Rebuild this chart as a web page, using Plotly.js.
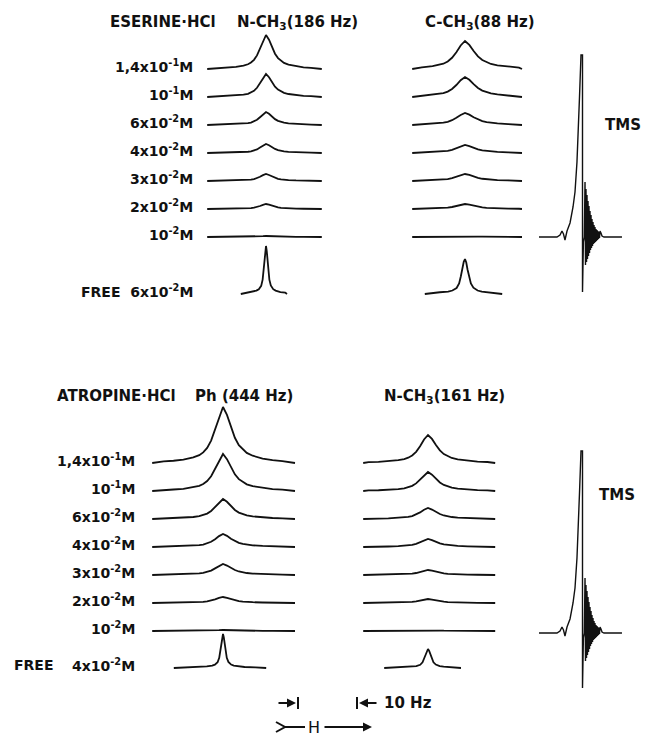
<!DOCTYPE html>
<html><head><meta charset="utf-8">
<script src="https://cdn.plot.ly/plotly-3.0.1.min.js"></script>
<style>html,body{margin:0;padding:0;background:#fff}</style>
</head><body>
<div id="chart" style="width:647px;height:736px"></div>
<script>
// ---------------- DATA ----------------
const concLabels = ["1,4x10<sup>-1</sup>M", "10<sup>-1</sup>M", "6x10<sup>-2</sup>M", "4x10<sup>-2</sup>M",
                    "3x10<sup>-2</sup>M", "2x10<sup>-2</sup>M", "10<sup>-2</sup>M"];
const freeConcEserine = "6x10<sup>-2</sup>M";
const freeConcAtropine = "4x10<sup>-2</sup>M";

// peak heights (arbitrary intensity units) for each concentration row
const eserineNCH3Heights = [34, 23, 13, 9, 7, 5, 1];
const eserineNCH3Free = 48;
const eserineCCH3Heights = [28, 20, 12, 8, 7, 5, 1];
const eserineCCH3Free = 35;
const atropinePhHeights = [56, 37, 20, 13, 11, 6, 1];
const atropinePhFree = 34;
const atropineNCH3Heights = [28, 19, 11, 8, 5, 4, 1];
const atropineNCH3Free = 19;

// line widths (Hz, full width at half height)
const boundWidthHz = {eserineNCH3: 2.5, eserineCCH3: 3.6, atropinePh: 3.3, atropineNCH3: 3.3};
const freeWidthHz  = {eserineNCH3: 0.8, eserineCCH3: 1.4, atropinePh: 0.9, atropineNCH3: 1.3};

// line shapes (offset in widths, relative intensity)
const boundShapeU = [-5, -4, -3, -2.5, -2, -1.5, -1.2, -1, -0.8, -0.6, -0.4, -0.2, 0, 0.2, 0.4, 0.6, 0.8, 1, 1.2, 1.5, 2, 2.5, 3, 4, 5];
const boundShapeV = [0.01, 0.015, 0.03, 0.04, 0.06, 0.1, 0.14, 0.19, 0.27, 0.4, 0.6, 0.84, 1, 0.86, 0.64, 0.45, 0.32, 0.24, 0.18, 0.13, 0.08, 0.05, 0.035, 0.02, 0.01];
const freeShapeU = [-10, -6, -4, -3, -2, -1.5, -1, -0.7, -0.5, -0.3, -0.15, 0, 0.15, 0.3, 0.5, 0.7, 1, 1.5, 2, 3, 4, 6, 10];
const freeShapeV = [0.01, 0.02, 0.03, 0.05, 0.07, 0.1, 0.17, 0.3, 0.5, 0.75, 0.92, 1, 0.9, 0.7, 0.48, 0.3, 0.18, 0.1, 0.07, 0.04, 0.03, 0.02, 0.01];

// TMS reference signal with ringing (offset in Hz from the peak, intensity)
const tmsHz = [-7.0, -4.0, -3.5, -3.17, -2.92, -2.67, -2.33, -1.83, -1.33, -1.0, -0.67, -0.5, -0.25, 0, 0.25, 0.25, 0.4, 0.55,
  0.67, 0.75, 0.83, 0.92, 1.0, 1.08, 1.17, 1.25, 1.33, 1.42, 1.5, 1.58, 1.67, 1.75, 1.83, 1.92, 2.0, 2.08, 2.17, 2.25,
  2.33, 2.42, 2.5, 2.58, 2.67, 2.75, 2.83, 2.92, 3.0, 3.08, 3.17, 3.33, 3.5, 3.83, 6.83];
const tmsIntensity = [0, 0, 2, 6, 3, -3, 6, 14, 30, 45, 75, 97, 140, 182, 182, -55, -5, 0,
  55, -28, 48, -25, 42, -22, 36, -19, 31, -16, 26, -13, 22, -11, 18, -9, 15, -7, 12, -6,
  10, -5, 8, -4, 7, -3, 6, -2, 5, -1, 6, 4, 1, 0, 0];

// ---------------- LAYOUT CONSTANTS (positions / styles) ----------------
const PX_PER_HZ = 6;
const FONT = {family: "DejaVu Sans", size: 14, color: "#111", weight: "bold"};
const TITLE_FONT = {family: "DejaVu Sans", size: 15, color: "#111", weight: "bold"};
const LINE = {color: "#111", width: 1.8};
const blocks = [
  {rowTop: 69, step: 28, freeBase: 294, labelRight: 195, freeLabel: freeConcEserine, freeWord: null,
   panels: [
     {key: "eserineNCH3", heights: eserineNCH3Heights, free: eserineNCH3Free, peakX: 266, ext: [-9.8, 9.3], freeExt: [-4.2, 3.5]},
     {key: "eserineCCH3", heights: eserineCCH3Heights, free: eserineCCH3Free, peakX: 465, ext: [-8.8, 9.5], freeExt: [-6.7, 6.2]}
   ], tms: {x: 581, base: 237}},
  {rowTop: 463, step: 28, freeBase: 668, labelRight: 137, freeLabel: freeConcAtropine, freeWord: 12,
   panels: [
     {key: "atropinePh", heights: atropinePhHeights, free: atropinePhFree, peakX: 223, ext: [-11.8, 12], freeExt: [-8.2, 7.2]},
     {key: "atropineNCH3", heights: atropineNCH3Heights, free: atropineNCH3Free, peakX: 428, ext: [-10.8, 11.2], freeExt: [-7.3, 5.5]}
   ], tms: {x: 581, base: 633}}
];

function spectrum(shU, shV, widthHz, peakX, baseY, height, ext) {
  const xs = [peakX + ext[0] * PX_PER_HZ], ys = [baseY];
  for (let i = 0; i < shU.length; i++) {
    const hz = shU[i] * widthHz;
    if (hz > ext[0] && hz < ext[1]) {
      xs.push(peakX + hz * PX_PER_HZ);
      ys.push(baseY - shV[i] * height);
    }
  }
  xs.push(peakX + ext[1] * PX_PER_HZ); ys.push(baseY);
  return {type: "scatter", mode: "lines", x: xs, y: ys, line: LINE, hoverinfo: "skip"};
}

const traces = [];
const annotations = [];
const shapes = [];

blocks.forEach(b => {
  concLabels.forEach((lab, r) => {
    const base = b.rowTop + r * b.step;
    annotations.push({x: b.labelRight, y: base - 3, text: lab, xanchor: "right", yanchor: "middle", showarrow: false, font: FONT});
    b.panels.forEach(p => {
      traces.push(spectrum(boundShapeU, boundShapeV, boundWidthHz[p.key], p.peakX, base, p.heights[r], p.ext));
    });
  });
  b.panels.forEach(p => {
    traces.push(spectrum(freeShapeU, freeShapeV, freeWidthHz[p.key], p.peakX, b.freeBase, p.free, p.freeExt));
  });
  if (b.freeWord === null) {
    annotations.push({x: b.labelRight, y: b.freeBase - 3, text: "FREE  " + b.freeLabel, xanchor: "right", yanchor: "middle", showarrow: false, font: FONT});
  } else {
    annotations.push({x: b.freeWord, y: b.freeBase - 3, text: "FREE", xanchor: "left", yanchor: "middle", showarrow: false, font: FONT});
    annotations.push({x: b.labelRight, y: b.freeBase - 3, text: b.freeLabel, xanchor: "right", yanchor: "middle", showarrow: false, font: FONT});
  }
  traces.push({type: "scatter", mode: "lines",
    x: tmsHz.map(h => b.tms.x + h * PX_PER_HZ), y: tmsIntensity.map(v => b.tms.base - v),
    line: {color: "#111", width: 1.4}, hoverinfo: "skip"});
});

// titles
const titles = [
  {x: 108, y: 22, t: "ESERINE·HCl", a: "left"}, {x: 235, y: 22, t: "N-CH<sub>3</sub>(186 Hz)", a: "left"},
  {x: 423, y: 22, t: "C-CH<sub>3</sub>(88 Hz)", a: "left"},
  {x: 55, y: 396, t: "ATROPINE·HCl", a: "left"}, {x: 193, y: 396, t: "Ph (444 Hz)", a: "left"},
  {x: 382, y: 396, t: "N-CH<sub>3</sub>(161 Hz)", a: "left"},
  {x: 643, y: 125, t: "TMS", a: "right"}, {x: 637, y: 495, t: "TMS", a: "right"}
];
titles.forEach(t => annotations.push({x: t.x, y: t.y, text: t.t, xanchor: t.a, yanchor: "middle", showarrow: false, font: TITLE_FONT}));

// 10 Hz scale marks and field direction
const arrowBase = {xref: "x", yref: "y", axref: "x", ayref: "y", showarrow: true, arrowhead: 2, arrowsize: 1, arrowwidth: 1.8, arrowcolor: "#111", text: ""};
annotations.push(Object.assign({}, arrowBase, {x: 296, y: 703, ax: 277, ay: 703}));
annotations.push(Object.assign({}, arrowBase, {x: 359, y: 703, ax: 378, ay: 703}));
annotations.push({x: 382, y: 703, text: "10 Hz", xanchor: "left", yanchor: "middle", showarrow: false, font: TITLE_FONT});
shapes.push({type: "line", xref: "x", yref: "y", x0: 298, x1: 298, y0: 697, y1: 709, line: {color: "#111", width: 2}});
shapes.push({type: "line", xref: "x", yref: "y", x0: 357, x1: 357, y0: 697, y1: 709, line: {color: "#111", width: 2}});
shapes.push({type: "path", xref: "x", yref: "y", path: "M 276 722 L 285 727 L 276 732", line: {color: "#111", width: 2}});
shapes.push({type: "line", xref: "x", yref: "y", x0: 284, x1: 305, y0: 727, y1: 727, line: {color: "#111", width: 2}});
annotations.push({x: 314, y: 727, text: "H", xanchor: "center", yanchor: "middle", showarrow: false, font: {family: "DejaVu Sans", size: 16, color: "#111"}});
annotations.push(Object.assign({}, arrowBase, {x: 372, y: 727, ax: 323, ay: 727}));

const layout = {
  width: 647, height: 736,
  margin: {l: 0, r: 0, t: 0, b: 0, pad: 0},
  paper_bgcolor: "#fff", plot_bgcolor: "#fff",
  showlegend: false,
  xaxis: {range: [0, 647], visible: false, fixedrange: true},
  yaxis: {range: [736, 0], visible: false, fixedrange: true},
  annotations: annotations,
  shapes: shapes
};
Plotly.newPlot("chart", traces, layout, {staticPlot: true, displayModeBar: false});
</script>
</body></html>
